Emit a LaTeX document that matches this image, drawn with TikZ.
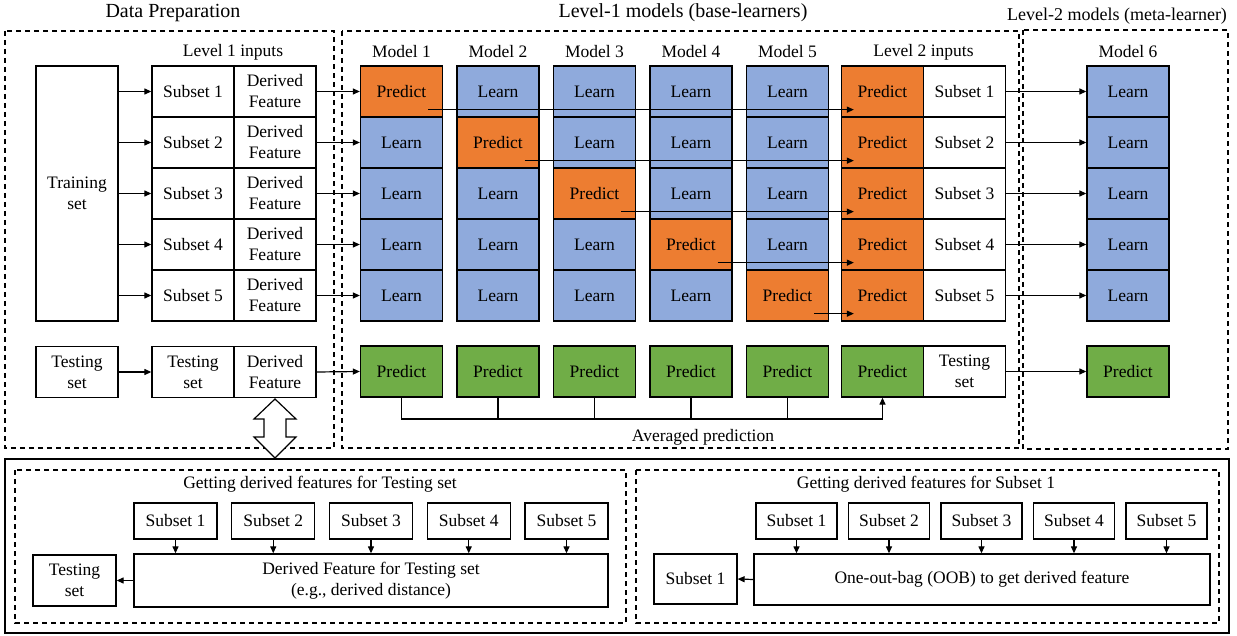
\documentclass[tikz,border=0pt]{standalone}
\usepackage{fontspec}
\setmainfont{Liberation Serif}
\usetikzlibrary{arrows.meta,calc}
\definecolor{learnblue}{HTML}{8FAADC}
\definecolor{predorange}{HTML}{ED7D31}
\definecolor{testgreen}{HTML}{70AD47}
\tikzset{
  cell/.style={draw, line width=1.3pt, minimum width=82pt, minimum height=51pt, inner sep=1pt, align=center, font=\rmfamily\fontsize{17.5}{21}\selectfont},
  subbox/.style={cell, minimum width=83pt, minimum height=36pt},
  frame/.style={draw, line width=1.2pt, dash pattern=on 5pt off 4pt},
  link/.style={line width=1.2pt, -{Triangle[length=7pt,width=6pt]}},
  title/.style={font=\rmfamily\fontsize{20}{24}\selectfont},
  lbl/.style={font=\rmfamily\fontsize{17.5}{21}\selectfont},
}
\begin{document}
\begin{tikzpicture}[x=1pt,y=-1pt]
\useasboundingbox (0,0) rectangle (1237,636);
%----------------------------------------
% frames and titles
\draw[frame] (5,31) rectangle (334,448);
\draw[frame] (342,31) rectangle (1019,448);
\draw[frame] (1023,30) rectangle (1228,449);
\node[title] (dptitle) at (173,13) {Data Preparation};
\node[title] (l1title) at (683,13) {Level-1 models (base-learners)};
\node[title, font=\rmfamily\fontsize{18}{22}\selectfont] (l2title) at (1117,16) {Level-2 models (meta-learner)};
%----------------------------------------
% data preparation
\node[cell, minimum height=255pt] (train) at (77,193.5) {Training\\set};
\node[lbl] (lvl1) at (233,52) {Level 1 inputs};
\foreach \r in {1,...,5}{
  \node[cell] (s\r) at (193,{91.5+51*(\r-1)}) {Subset \r};
  \node[cell] (d\r) at (275,{91.5+51*(\r-1)}) {Derived\\Feature};
}
\node[cell] (tst) at (77,372) {Testing\\set};
\node[cell] (ts) at (193,372) {Testing\\set};
\node[cell] (dt) at (275,372) {Derived\\Feature};
%----------------------------------------
% level-1 models
\foreach \k/\x in {1/401.5,2/498,3/594.5,4/691,5/787.5}{
  \node[lbl] (mt\k) at (\x,52) {Model \k};
  \foreach \r in {1,...,5}{
    \ifnum\r=\k \def\fillc{predorange}\def\txt{Predict}\else\def\fillc{learnblue}\def\txt{Learn}\fi
    \node[cell, fill=\fillc] (m\k-\r) at (\x,{91.5+51*(\r-1)}) {\txt};
  }
  \node[cell, fill=testgreen] (t\k) at (\x,371.5) {Predict};
}
\node[lbl] (lvl2) at (923.5,52) {Level 2 inputs};
\foreach \r in {1,...,5}{
  \node[cell, fill=predorange] (lp\r) at (882.5,{91.5+51*(\r-1)}) {Predict};
  \node[cell] (ls\r) at (964.5,{91.5+51*(\r-1)}) {Subset \r};
}
\node[cell, fill=testgreen] (lpt) at (882.5,371.5) {Predict};
\node[cell] (lts) at (964.5,371.5) {Testing\\set};
%----------------------------------------
% level-2 model
\node[lbl] (mt6) at (1128,52) {Model 6};
\foreach \r in {1,...,5}
  \node[cell, fill=learnblue] (m6-\r) at (1128,{91.5+51*(\r-1)}) {Learn};
\node[cell, fill=testgreen] (m6t) at (1128,371.5) {Predict};
%----------------------------------------
% connectors
\foreach \r in {1,...,5}{
  \draw[link] (train.east |- s\r) -- (s\r.west);
  \draw[link] (d\r.east) -- (m1-\r.west);
  \draw[link] ([xshift=-15pt,yshift=8pt]m\r-\r.south east) -- ([xshift=13pt,yshift=8pt]lp\r.south west);
  \draw[link] (ls\r.east) -- (m6-\r.west);
}
\draw[link] (tst) -- (ts);
\draw[link] (dt.east) -- (t1.west);
\draw[link] (lts.east) -- (m6t.west);
\coordinate (avg) at (401.5,419);
\draw[link] (t1.south) -- (avg) -| (lpt.south);
\foreach \k in {2,...,5}
  \draw[line width=1.2pt] (t\k.south) -- (t\k.south |- avg);
\node[lbl] (avgtext) at (703,437) {Averaged prediction};
%----------------------------------------
% derived features
\draw[line width=1.3pt] (5,459) rectangle (1229,633);
\draw[line width=1.2pt, fill=white] (275,399) -- (296,419) -- (286,419) -- (286,437) -- (296,437)
  -- (275,458) -- (254,437) -- (264,437) -- (264,419) -- (254,419) -- cycle;
\draw[frame] (15,470) rectangle (626,623);
\draw[frame] (636,470) rectangle (1219,623);
\node[lbl] (gtest) at (320,484) {Getting derived features for Testing set};
\node[lbl] (gsub) at (926,484) {Getting derived features for Subset 1};
\node[cell, minimum width=474pt, minimum height=53pt] (dft) at (371,580.5) {Derived Feature for Testing set\\(e.g., derived distance)};
\node[cell, minimum width=83pt] (bts) at (74.5,580.5) {Testing\\set};
\node[cell, minimum width=456pt] (oob) at (982,579.5) {One-out-bag (OOB) to get derived feature};
\node[cell, minimum width=83pt, minimum height=50pt] (bs) at (695.5,579) {Subset 1};
\foreach \k in {1,...,5}{
  \node[subbox] (ta\k) at ({175.5+97.75*(\k-1)},521) {Subset \k};
  \node[subbox, minimum width=81pt] (sa\k) at ({796.5+92.5*(\k-1)},521) {Subset \k};
  \draw[link] (ta\k.south) -- (ta\k.south |- dft.north);
  \draw[link] (sa\k.south) -- (sa\k.south |- oob.north);
}
\draw[link] (dft.west) -- (bts.east);
\draw[link] (oob.west) -- (bs.east);
\end{tikzpicture}
\end{document}
